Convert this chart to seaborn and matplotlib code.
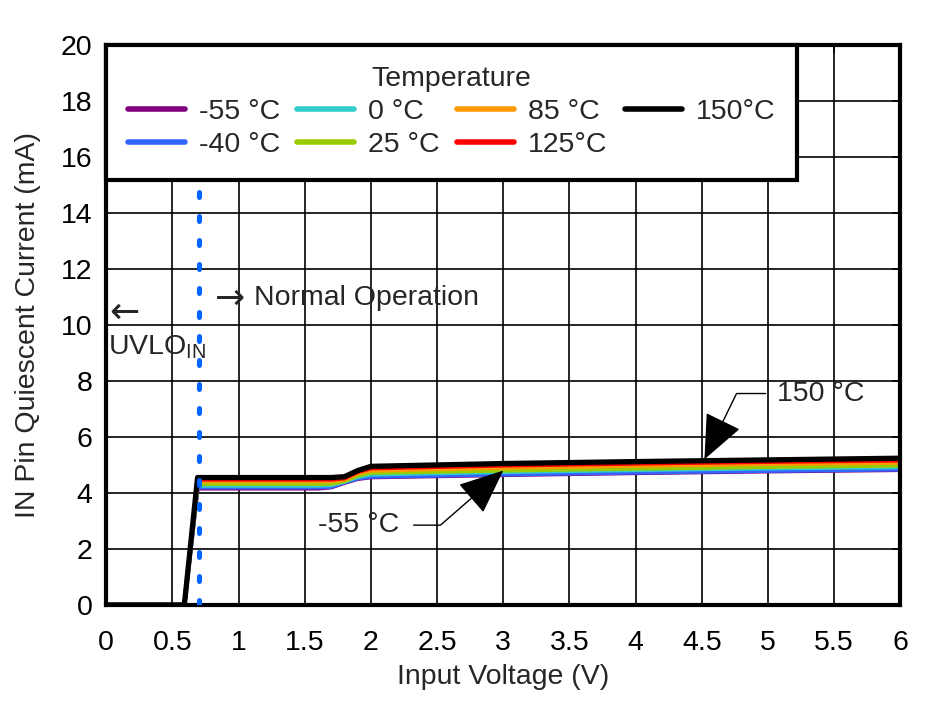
import numpy as np
import pandas as pd
import matplotlib
matplotlib.use("Agg")
import matplotlib.pyplot as plt
import seaborn as sns

# data
voltage = [0, 0.59, 0.69, 1.6, 1.7, 1.8, 1.9, 2.0, 3.0, 4.0, 5.0, 6.0]
i_m55 = [0, 0, 4.16, 4.16, 4.20, 4.36, 4.50, 4.56, 4.64, 4.71, 4.77, 4.82]
i_m40 = [0, 0, 4.20, 4.20, 4.22, 4.38, 4.52, 4.58, 4.66, 4.73, 4.79, 4.84]
i_0 = [0, 0, 4.26, 4.26, 4.28, 4.40, 4.57, 4.66, 4.75, 4.82, 4.88, 4.92]
i_25 = [0, 0, 4.32, 4.32, 4.33, 4.42, 4.62, 4.72, 4.80, 4.87, 4.93, 4.98]
i_85 = [0, 0, 4.42, 4.42, 4.42, 4.47, 4.70, 4.80, 4.90, 4.97, 5.03, 5.08]
i_125 = [0, 0, 4.48, 4.48, 4.48, 4.52, 4.75, 4.88, 4.98, 5.05, 5.11, 5.16]
i_150 = [0, 0, 4.55, 4.55, 4.55, 4.58, 4.80, 4.95, 5.05, 5.12, 5.18, 5.24]

labels = ['-55 °C', '-40 °C', '0 °C', '25 °C', '85 °C', '125°C', '150°C']
colors = ['#800080', '#3366ff', '#33cccc', '#99cc00', '#ff9900', '#ff0000', '#000000']
uvlo_v = 0.7

series = [i_m55, i_m40, i_0, i_25, i_85, i_125, i_150]
df = pd.concat([pd.DataFrame({'V': voltage, 'I': s, 'T': lab})
                for s, lab in zip(series, labels)], ignore_index=True)

sns.set_style("white")
plt.rcParams['font.family'] = ['Liberation Sans', 'DejaVu Sans']
plt.rcParams['mathtext.fontset'] = 'custom'
plt.rcParams['mathtext.rm'] = 'Liberation Sans'
FS = 20.5

fig = plt.figure(figsize=(9.32, 7.01), dpi=100)
ax = fig.add_axes([0.114, 0.137, 0.852, 0.799])

sns.lineplot(data=df, x='V', y='I', hue='T', palette=dict(zip(labels, colors)),
             hue_order=labels, estimator=None, sort=False, linewidth=3, ax=ax)
# thicker 150 line on top
for line, lab in zip(ax.get_lines(), labels):
    if lab == '150°C':
        line.set_linewidth(3.8)

# UVLO threshold marker
ax.axvline(uvlo_v, color='#0066ff', linestyle=(0, (1.0, 3.8)), linewidth=3.6,
           dash_capstyle='round', zorder=3)

ax.set_xlim(0, 6)
ax.set_ylim(0, 20)
ax.set_xticks(np.arange(0, 6.01, 0.5))
ax.set_xticklabels(['0', '0.5', '1', '1.5', '2', '2.5', '3', '3.5', '4', '4.5', '5', '5.5', '6'])
ax.set_yticks(np.arange(0, 21, 2))
ax.grid(True, color='black', linewidth=1.2)
ax.tick_params(axis='both', labelsize=FS, direction='in', length=6, width=1.2,
               top=True, right=True, colors='black')
ax.tick_params(axis='x', pad=18)
ax.tick_params(axis='y', pad=10)
for sp in ax.spines.values():
    sp.set_linewidth(3)
    sp.set_color('black')
ax.set_xlabel('Input Voltage (V)', fontsize=FS, labelpad=6)
ax.set_ylabel('IN Pin Quiescent Current (mA)', fontsize=FS, labelpad=14)

ax.text(0.02, 10.45, '←', fontsize=26, family=['DejaVu Sans'], va='center')
ax.text(0.01, 9.2, 'UVLO$_{\\mathregular{IN}}$', fontsize=FS, va='center')
ax.text(0.82, 10.95, '→', fontsize=26, family=['DejaVu Sans'], va='center')
ax.text(1.12, 10.95, 'Normal Operation', fontsize=FS, va='center')

ax.annotate('150 °C', xy=(4.52, 5.2), xytext=(5.07, 7.55), fontsize=FS, va='center',
            arrowprops=dict(arrowstyle='-|>,head_length=1.4,head_width=0.6', color='black',
                            lw=1, shrinkA=6, shrinkB=0,
                            connectionstyle='angle,angleA=0,angleB=64,rad=0'))
ax.annotate('-55 °C', xy=(3.0, 4.8), xytext=(1.6, 2.85), fontsize=FS, va='center',
            arrowprops=dict(arrowstyle='-|>,head_length=1.4,head_width=0.6', color='black',
                            lw=1, shrinkA=8, shrinkB=0,
                            connectionstyle='angle,angleA=0,angleB=41,rad=0'))

handles, _ = ax.get_legend_handles_labels()
leg = ax.legend(handles, labels, title='Temperature', ncol=4, loc='upper left',
                bbox_to_anchor=(0, 1), borderaxespad=0, fontsize=FS, title_fontsize=FS,
                frameon=True, fancybox=False, framealpha=1, edgecolor='black',
                handlelength=2.0, handletextpad=0.5, columnspacing=0.6,
                labelspacing=0.25, borderpad=0.75)
leg.get_frame().set_linewidth(3)
for h in leg.get_lines():
    h.set_linewidth(4)

fig.savefig('out.png', dpi=100)
